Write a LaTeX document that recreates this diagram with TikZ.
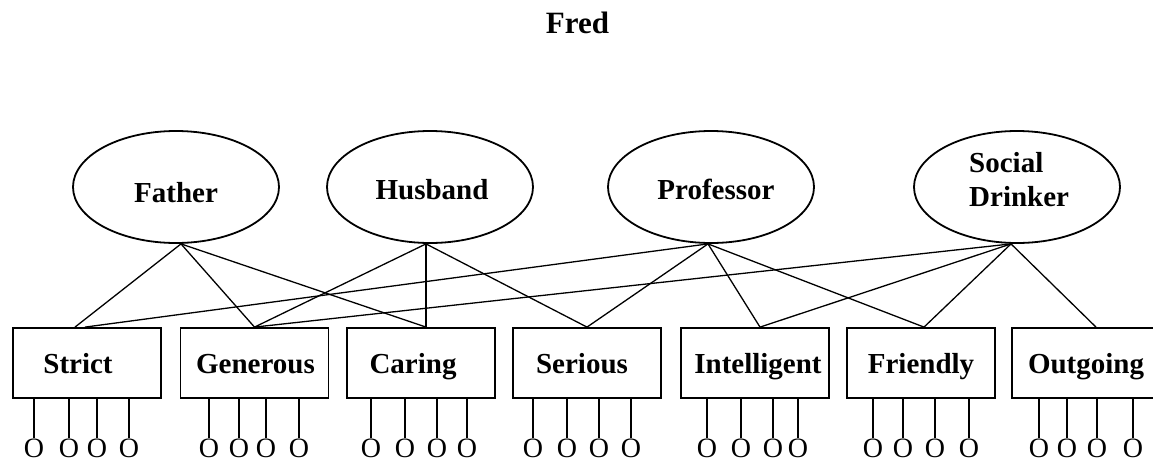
\documentclass[tikz,border=0pt]{standalone}
\usepackage{fontspec}
\setmainfont{Liberation Serif}
\usetikzlibrary{shapes.geometric}
\begin{document}
\begin{tikzpicture}[x=1pt,y=-1pt,
  trait/.style={draw, line width=1.8pt, minimum width=148pt, minimum height=70pt, inner sep=0pt},
  role/.style={draw, ellipse, line width=1.8pt, minimum width=206pt, minimum height=112pt, inner sep=0pt},
  lab/.style={font=\bfseries\fontsize{29}{34}\selectfont, inner sep=0pt},
  fixlab/.style={lab, text height=20pt, text depth=7pt},
  conn/.style={line width=1.3pt},
  stub/.style={line width=1.4pt},
  onode/.style={font=\fontsize{28}{32}\selectfont, inner sep=1pt, anchor=base}]
\useasboundingbox (0,0) rectangle (1153,461);

% title
\node[lab, anchor=base, font=\bfseries\fontsize{31}{36}\selectfont] (title) at (577.5,33) {Fred};

% roles
\node[role, label={[fixlab, yshift=-8.5pt]center:Father}] (father) at (176,187) {};
\node[role, label={[fixlab, yshift=-5.5pt, xshift=2pt]center:Husband}] (husband) at (430,187) {};
\node[role, label={[fixlab, yshift=-5.5pt, xshift=5pt]center:Professor}] (professor) at (711,187) {};
\node[role] (social) at (1017,187) {};
\node[lab, anchor=north west, align=left] (sociallab) at (969,152) {Social\\Drinker};

% traits
\node[trait, label={[fixlab, yshift=-3.5pt, xshift=-9pt]center:Strict}] (strict) at (87,363) {};
\node[trait, label={[fixlab, yshift=-3.5pt, xshift=1pt]center:Generous}] (generous) at (254.5,363) {};
\node[trait, label={[fixlab, yshift=-3.5pt, xshift=-8pt]center:Caring}] (caring) at (421,363) {};
\node[trait, label={[fixlab, yshift=-3.5pt, xshift=-5pt]center:Serious}] (serious) at (587,363) {};
\node[trait, label={[fixlab, yshift=-3.5pt, xshift=3pt]center:Intelligent}] (intelligent) at (755,363) {};
\node[trait, label={[fixlab, yshift=-3.5pt]center:Friendly}] (friendly) at (921,363) {};
\node[trait, label={[fixlab, yshift=-3.5pt]center:Outgoing}] (outgoing) at (1086,363) {};

% connectors
\draw[conn] ([xshift=5pt]father.south) -- ([xshift=-12pt]strict.north);
\draw[conn] ([xshift=5pt]father.south) -- (generous.north);
\draw[conn] ([xshift=5pt]father.south) -- ([xshift=5pt]caring.north);

\draw[conn] ([xshift=-4pt]husband.south) -- (generous.north);
\draw[conn] ([xshift=-4pt]husband.south) -- ([xshift=5pt]caring.north);
\draw[conn] ([xshift=-4pt]husband.south) -- (serious.north);

\draw[conn] ([xshift=-3pt]professor.south) -- ([xshift=-2pt]strict.north);
\draw[conn] ([xshift=-3pt]professor.south) -- (serious.north);
\draw[conn] ([xshift=-3pt]professor.south) -- ([xshift=5pt]intelligent.north);
\draw[conn] ([xshift=-3pt]professor.south) -- ([xshift=3pt]friendly.north);

\draw[conn] ([xshift=-6pt]social.south) -- (generous.north);
\draw[conn] ([xshift=-6pt]social.south) -- ([xshift=5pt]intelligent.north);
\draw[conn] ([xshift=-6pt]social.south) -- ([xshift=3pt]friendly.north);
\draw[conn] ([xshift=-6pt]social.south) -- ([xshift=10pt]outgoing.north);

% indicators
\foreach \b/\xa/\xb/\xc/\xd in {strict/34/69/97/129, generous/209/239/266/299, caring/371/405/437/467,
    serious/533/567/599/631, intelligent/707/741/773/798, friendly/873/903/935/969, outgoing/1039/1067/1097/1133}{
  \foreach \x [count=\i] in {\xa,\xb,\xc,\xd}{
    \node[onode] (\b-o\i) at (\x,457.5) {O};
    \draw[stub] (\b.south -| \b-o\i) -- (\b-o\i.north);
  }
}
\end{tikzpicture}
\end{document}
